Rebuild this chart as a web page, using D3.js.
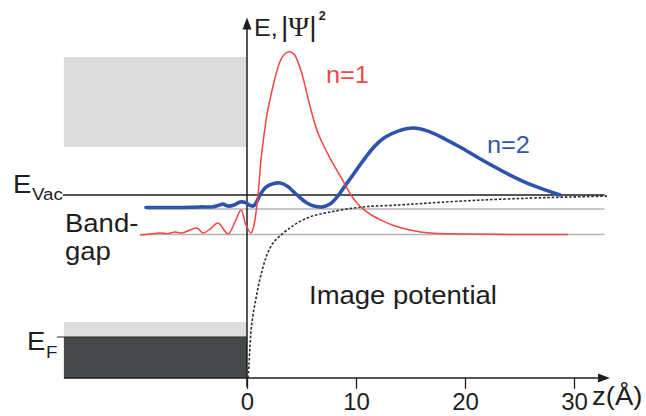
<!DOCTYPE html>
<html>
<head>
<meta charset="utf-8">
<script src="https://cdn.jsdelivr.net/npm/d3@7"></script>
<style>
  html, body { margin: 0; padding: 0; background: #fff; }
  svg { display: block; }
</style>
</head>
<body>
<svg id="chart" width="646" height="416"></svg>
<script>
// Distance from the surface z (Å) and energy E (eV, relative to the vacuum level)
const zTicks = [0, 10, 20, 30];
const zBulkEdge = -16.8;          // left end of the bulk region
const zAxisEnd = 33.3;            // tip of the z arrow
const eAxisTop = 6.25;            // tip of the energy arrow
const eVac = 0;
const eFermi = -5.0;

// Bulk bands (top, bottom in eV)
const bandTop = [4.86, -4.47, -5.0];
const bandBottom = [1.69, -5.0, -6.44];

// Image-state levels (n = 1, n = 2)
const stateEnergy = [-1.39, -0.49];
const stateZStart = [-9.7, -9.1];

// Image potential V(z)
const potZ = [0.09, 0.18, 0.28, 0.37, 0.55, 0.83, 1.10, 1.47, 1.83, 2.39, 3.03, 3.94, 4.59, 5.78, 7.61, 10.64, 14.04, 16.79, 21.38, 25.96, 29.63, 33.03];
const potE = [-6.44, -5.99, -5.28, -4.75, -4.23, -3.63, -3.10, -2.54, -2.11, -1.69, -1.44, -1.16, -0.99, -0.77, -0.60, -0.42, -0.35, -0.28, -0.18, -0.11, -0.07, -0.04];

// |Ψ|² of the n = 1 state, drawn on its energy level
const n1Z = [-9.82, -8.90, -7.98, -7.25, -6.61, -5.96, -5.23, -4.59, -4.04, -3.39, -2.66, -1.74, -1.10, -0.55, -0.09, 0.37, 0.64, 1.01, 1.28, 1.56, 1.83, 2.20, 2.57, 2.94, 3.30, 3.85, 4.31, 4.68, 5.05, 5.78, 6.51, 7.61, 8.72, 9.54, 10.09, 10.64, 11.56, 12.48, 13.58, 14.95, 16.79, 19.54, 25.05, 29.45];
const n1E = [-1.41, -1.37, -1.34, -1.36, -1.30, -1.34, -1.23, -1.16, -1.34, -1.20, -0.99, -1.37, -0.95, -0.53, -1.06, -1.34, -1.06, 0.00, 1.23, 2.11, 2.82, 3.52, 4.12, 4.61, 4.89, 5.04, 4.96, 4.68, 4.26, 3.13, 2.18, 1.30, 0.56, 0.00, -0.28, -0.49, -0.74, -0.92, -1.09, -1.23, -1.34, -1.37, -1.39, -1.39];

// |Ψ|² of the n = 2 state
const n2Z = [-9.27, -7.98, -6.15, -4.31, -3.21, -2.66, -2.20, -1.74, -1.19, -0.64, -0.18, 0.18, 0.55, 0.83, 1.19, 1.74, 2.39, 3.03, 3.67, 4.59, 5.50, 6.24, 6.88, 7.61, 8.26, 8.99, 9.91, 10.83, 11.74, 12.66, 13.85, 15.23, 16.61, 18.17, 19.54, 21.10, 22.57, 24.13, 25.69, 27.34, 28.72];
const n2E = [-0.44, -0.44, -0.44, -0.42, -0.42, -0.37, -0.32, -0.39, -0.35, -0.25, -0.26, -0.35, -0.39, -0.28, 0.00, 0.28, 0.40, 0.42, 0.32, 0.00, -0.28, -0.40, -0.42, -0.32, -0.07, 0.32, 0.81, 1.30, 1.73, 2.03, 2.25, 2.36, 2.25, 1.97, 1.69, 1.34, 1.02, 0.70, 0.42, 0.18, 0.00];

const svg = d3.select("#chart");
const x = d3.scaleLinear().domain([0, 30]).range([247, 574]);
const y = d3.scaleLinear().domain([0, -5]).range([195, 337]);

const SANS = "'Liberation Sans', Arial, Helvetica, sans-serif";
const INK = "#1e1e1e";

// bulk bands
const bandFill = ["#dbdcdb", "#dcdddc", "#45494a"];
svg.append("g").selectAll("rect")
  .data(bandTop)
  .join("rect")
  .attr("x", x(zBulkEdge))
  .attr("width", x(0) - x(zBulkEdge))
  .attr("y", d => y(d))
  .attr("height", (d, i) => y(bandBottom[i]) - y(d))
  .attr("fill", (d, i) => bandFill[i]);

// image-state energy levels
svg.append("g").selectAll("line")
  .data(stateEnergy)
  .join("line")
  .attr("x1", (d, i) => x(stateZStart[i]))
  .attr("x2", x(32.8))
  .attr("y1", d => y(d))
  .attr("y2", d => y(d))
  .attr("stroke", "#b4b4b4")
  .attr("stroke-width", 1.5);

// Fermi level tick
svg.append("line")
  .attr("x1", x(zBulkEdge) - 7).attr("x2", x(0))
  .attr("y1", y(eFermi)).attr("y2", y(eFermi))
  .attr("stroke", "#2a2a2a").attr("stroke-width", 1.2);

// image potential
const smooth = d3.line()
  .x(d => x(d[0])).y(d => y(d[1]))
  .curve(d3.curveCatmullRom.alpha(0.5));

svg.append("path")
  .datum(d3.zip(potZ, potE))
  .attr("d", smooth)
  .attr("fill", "none")
  .attr("stroke", "#2e2e2e")
  .attr("stroke-width", 1.6)
  .attr("stroke-dasharray", "2.6,1.8");

// vacuum level
svg.append("line")
  .attr("x1", x(zBulkEdge) - 1).attr("x2", x(32.8))
  .attr("y1", y(eVac)).attr("y2", y(eVac))
  .attr("stroke", INK).attr("stroke-width", 1.5);

// z axis with ticks
const zAxis = d3.axisBottom(x)
  .tickValues(zTicks)
  .tickSize(11)
  .tickPadding(4)
  .tickFormat(d3.format("d"));

const gAxis = svg.append("g")
  .attr("transform", `translate(0,${y(bandBottom[2])})`)
  .call(zAxis);
gAxis.select(".domain").remove();
gAxis.selectAll(".tick line").attr("stroke", INK).attr("stroke-width", 1.3);
gAxis.selectAll(".tick text")
  .attr("fill", INK)
  .style("font-family", SANS)
  .style("font-size", "24px");

// axis lines with arrow heads
const yBase = y(bandBottom[2]);
svg.append("line")
  .attr("x1", x(zBulkEdge)).attr("x2", x(zAxisEnd) - 6)
  .attr("y1", yBase).attr("y2", yBase)
  .attr("stroke", INK).attr("stroke-width", 1.5);
svg.append("path")
  .attr("d", `M${x(zAxisEnd)},${yBase} L${x(zAxisEnd) - 12},${yBase - 4.5} L${x(zAxisEnd) - 12},${yBase + 4.5} Z`)
  .attr("fill", INK);

svg.append("line")
  .attr("x1", x(0)).attr("x2", x(0))
  .attr("y1", y(eAxisTop) + 6).attr("y2", yBase + 9)
  .attr("stroke", INK).attr("stroke-width", 1.5);
svg.append("path")
  .attr("d", `M${x(0)},${y(eAxisTop)} L${x(0) - 4.5},${y(eAxisTop) + 12} L${x(0) + 4.5},${y(eAxisTop) + 12} Z`)
  .attr("fill", INK);

// wavefunctions
svg.append("path")
  .datum(d3.zip(n2Z, n2E))
  .attr("d", smooth)
  .attr("fill", "none")
  .attr("stroke", "#2c54ac")
  .attr("stroke-width", 3.6)
  .attr("stroke-linecap", "round")
  .attr("stroke-linejoin", "round");

svg.append("path")
  .datum(d3.zip(n1Z, n1E))
  .attr("d", smooth)
  .attr("fill", "none")
  .attr("stroke", "#f04646")
  .attr("stroke-width", 1.5)
  .attr("stroke-linejoin", "round");

// text labels
function label(px, py, txt, size, color, sx = 1.1) {
  return svg.append("text")
    .attr("transform", `translate(${px},${py}) scale(${sx},1)`)
    .style("font-family", SANS)
    .style("font-size", size + "px")
    .attr("fill", color)
    .text(txt);
}

label(13, 193, "E", 25, INK);
label(32, 200, "Vac", 17, INK);
label(65, 232, "Band-", 25, INK);
label(65, 260, "gap", 25, INK);
label(27, 350, "E", 25, INK);
label(46, 358, "F", 17, INK);
label(326, 83, "n=1", 23, "#f04848");
label(487, 153, "n=2", 23, "#3457ad");
label(309, 304, "Image potential", 25, INK);
label(592, 405, "z(Å)", 25, INK);

// energy / probability density label
const yl = svg.append("text")
  .attr("transform", "translate(254,36) scale(1.05,1)")
  .style("font-family", SANS)
  .style("font-size", "24px")
  .attr("fill", INK);
yl.append("tspan").text("E,");
yl.append("tspan").attr("dx", 3).style("font-size", "27px").text("|");
yl.append("tspan").style("font-family", "'Liberation Serif', 'Times New Roman', serif").style("font-size", "27px").text("Ψ");
yl.append("tspan").style("font-size", "27px").text("|");
yl.append("tspan").attr("dx", 2).attr("dy", -16).style("font-size", "12px").style("font-weight", "bold").text("2");
</script>
</body>
</html>
